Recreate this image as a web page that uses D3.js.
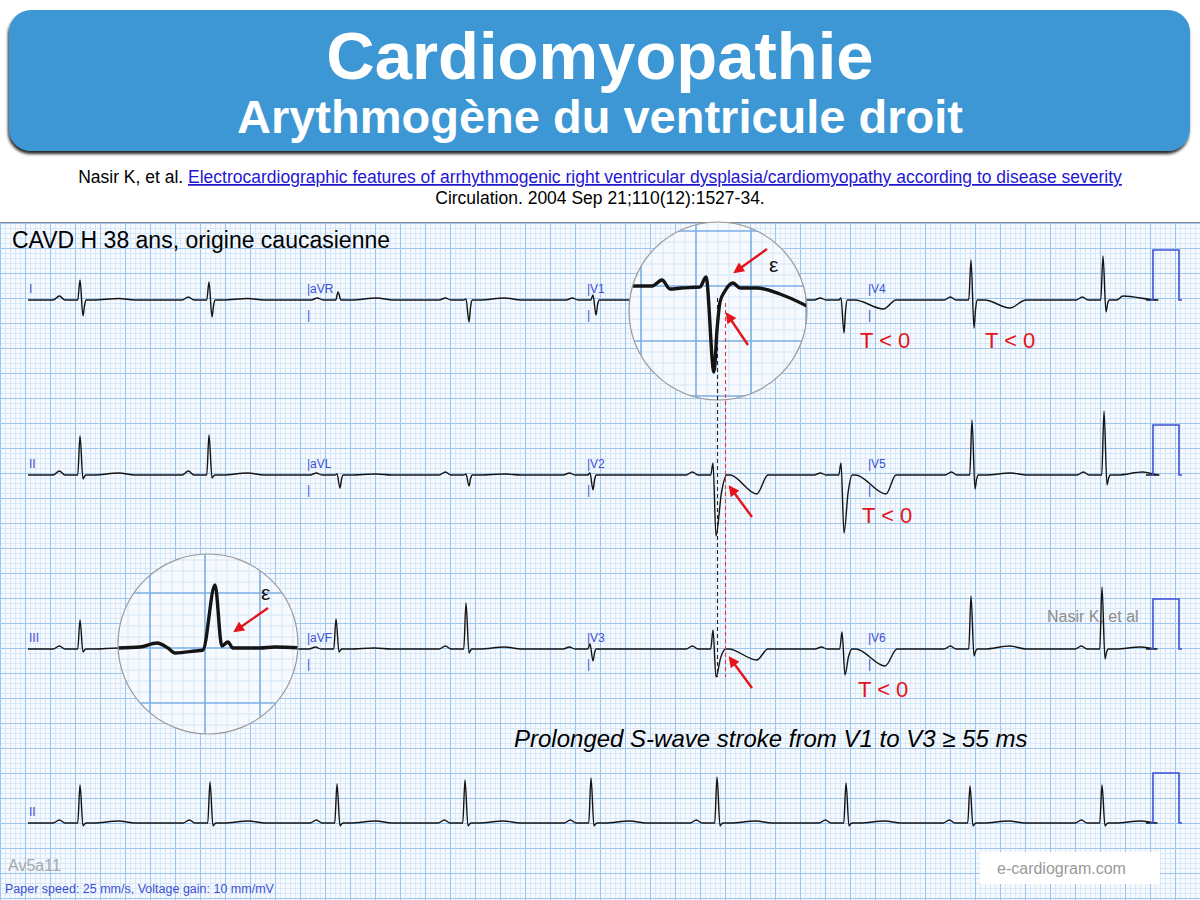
<!DOCTYPE html>
<html>
<head>
<meta charset="utf-8">
<script src="https://cdn.jsdelivr.net/npm/d3@7"></script>
<style>
  html, body { margin: 0; padding: 0; background: #fff; }
  svg { display: block; font-family: "Liberation Sans", Arial, Helvetica, sans-serif; }
</style>
</head>
<body>
<div id="chart"></div>
<script>
// ---- values ----
// paper: 25 mm/s, 10 mm/mV  ->  time in s, amplitude in mV
const rowBaselines = [300, 475, 649, 823];            // px, isoelectric line of each strip
const leadNames = [['I', 'aVR', 'V1', 'V4'], ['II', 'aVL', 'V2', 'V5'], ['III', 'aVF', 'V3', 'V6'], ['II']];
const columnStarts = [0.232, 2.456, 4.696, 6.944];  // s, where each lead label sits
const traceSpan = [0.224, 9.168];                    // s, first and last sample of every strip

// one entry per beat: R time (s), P, Q, R, S, T amplitudes (mV), J point / T peak (ms after R)
const row1Beats = [
  { t: 0.640, p: 0.08, r: 0.40, s: 0.32, tw: 0.03 },
  { t: 1.672, p: 0.06, r: 0.36, s: 0.34, tw: 0.03 },
  { t: 2.704, p: 0.04, r: 0.16, s: 0.00, tw: 0.04 },
  { t: 3.728, p: 0.04, r: 0.02, s: 0.44, tw: 0.04 },
  { t: 4.744, p: 0.04, r: 0.10, s: 0.30, tw: 0.00 },
  { t: 5.704, p: 0.06, r: 0.20, s: 1.20, j: 110, tw: -0.10 },
  { t: 6.728, p: 0.04, r: 0.04, s: 0.66, tw: -0.18, tp: 340 },
  { t: 7.768, p: 0.06, r: 0.80, s: 0.56, tw: -0.16, tp: 310 },
  { t: 8.824, p: 0.06, r: 0.88, s: 0.24, tw: 0.08, tp: 160 },
];
const row2Beats = [
  { t: 0.640, p: 0.08, r: 0.78, s: 0.08, tw: 0.04 },
  { t: 1.672, p: 0.08, r: 0.80, s: 0.06, tw: 0.04 },
  { t: 2.696, p: 0.04, r: 0.02, s: 0.26, tw: 0.02 },
  { t: 3.728, p: 0.06, r: 0.02, s: 0.22, tw: 0.02 },
  { t: 4.720, p: 0.04, r: 0.04, s: 0.30, tw: 0.00 },
  { t: 5.704, p: 0.06, r: 0.24, s: 1.22, j: 110, tw: -0.38, tp: 350 },
  { t: 6.728, p: 0.04, r: 0.24, s: 1.16, j: 90, tw: -0.38, tp: 360 },
  { t: 7.776, p: 0.06, r: 1.10, s: 0.28, tw: 0.04 },
  { t: 8.832, p: 0.06, r: 1.28, s: 0.20, tw: 0.06 },
];
const row3Beats = [
  { t: 0.640, p: 0.06, r: 0.58, s: 0.06, tw: 0.02 },
  { t: 1.672, p: 0.06, r: 0.62, s: 0.06, tw: 0.02 },
  { t: 2.688, p: 0.04, r: 0.60, s: 0.06, tw: 0.02 },
  { t: 3.728, p: 0.06, r: 0.92, s: 0.08, tw: 0.04 },
  { t: 4.720, p: 0.04, r: 0.10, s: 0.24, tw: 0.00 },
  { t: 5.704, p: 0.06, r: 0.38, s: 0.56, j: 100, tw: -0.22, tp: 350 },
  { t: 6.736, p: 0.04, r: 0.34, s: 0.52, j: 80, tw: -0.34, tp: 345 },
  { t: 7.768, p: 0.06, r: 1.06, s: 0.14, tw: 0.06 },
  { t: 8.816, p: 0.06, r: 1.24, s: 0.20, tw: 0.04 },
];
const row4Beats = [
  { t: 0.640, p: 0.06, r: 0.76, s: 0.06, tw: 0.04 },
  { t: 1.680, p: 0.06, r: 0.82, s: 0.06, tw: 0.04 },
  { t: 2.696, p: 0.06, r: 0.78, s: 0.06, tw: 0.04 },
  { t: 3.720, p: 0.06, r: 0.86, s: 0.06, tw: 0.04 },
  { t: 4.728, p: 0.06, r: 0.90, s: 0.06, tw: 0.04 },
  { t: 5.736, p: 0.06, r: 0.92, s: 0.06, tw: 0.04 },
  { t: 6.768, p: 0.06, r: 0.80, s: 0.06, tw: 0.04 },
  { t: 7.760, p: 0.06, r: 0.74, s: 0.06, tw: 0.04 },
  { t: 8.816, p: 0.06, r: 0.76, s: 0.06, tw: 0.04 },
];
const rowBeats = [row1Beats, row2Beats, row3Beats, row4Beats];

// 1 mV calibration pulse at the end of each strip: [s, mV]
const calibration = [[9.200, 0], [9.224, 0], [9.224, 1], [9.432, 1], [9.432, 0], [9.456, 0]];

// magnified beats inside the two lenses: [ms from R, mV]
const v1Lens = [[-280, 0], [-196, 0], [-160, 0.06], [-131, -0.03], [-90, -0.02], [-22, -0.01], [0, 0.09],
  [29, -0.86], [40, -0.44], [51, -0.16], [69, -0.05], [98, 0.03], [124, -0.02], [185, -0.02], [269, -0.08], [367, -0.20]];
const iiiLens = [[-353, 0], [-273, 0.01], [-211, 0.05], [-171, 0], [-145, -0.05], [-73, -0.03], [-44, -0.02],
  [0, 0.63], [25, 0.02], [47, 0.06], [65, 0], [164, 0], [218, 0.01], [325, 0]];

// wave timing shared by all beats (ms relative to R)
const TIMING = { pOn: -215, pPk: -165, pOff: -120, qOn: -40, q: -18, s: 24, j: 50, tOn: 110, tPk: 310, tOff: 440 };

const COLORS = {
  paper: '#f6fafe', minor: '#d2e4f6', major: '#9fc6ee', ink: '#141414',
  lead: '#3d50d6', red: '#e5141b', banner: '#3e97d4', link: '#1f16d4', grey: '#8c8c8c',
};

// ---- drawing ----
const W = 1200, H = 900, gridTop = 222;
const svg = d3.select('#chart').append('svg').attr('width', W).attr('height', H);
const defs = svg.append('defs');

const x = d3.scaleLinear().domain([0, 9.6]).range([0, W]);        // 125 px per second
const mmX = d3.scaleLinear().domain([0, 240]).range([0, W]);       // 5 px per mm
const mmY = d3.scaleLinear().domain([0, 136]).range([223, 903]);
const yRow = (base) => d3.scaleLinear().domain([-1, 1]).range([base + 50, base - 50]);

// banner
defs.append('filter').attr('id', 'shadow').attr('x', '-5%').attr('y', '-10%').attr('width', '110%').attr('height', '130%')
  .append('feDropShadow').attr('dx', -1).attr('dy', 3).attr('stdDeviation', 1.6)
  .attr('flood-color', '#000').attr('flood-opacity', 0.85);
svg.append('rect').attr('x', 9).attr('y', 10).attr('width', 1181).attr('height', 141).attr('rx', 22)
  .attr('fill', COLORS.banner).attr('filter', 'url(#shadow)');
svg.append('text').attr('x', 600).attr('y', 79).attr('text-anchor', 'middle')
  .attr('fill', '#fff').style('font-weight', 700).style('font-size', '67px').text('Cardiomyopathie');
svg.append('text').attr('x', 600).attr('y', 133).attr('text-anchor', 'middle')
  .attr('fill', '#fff').style('font-weight', 700).style('font-size', '47px').text('Arythmogène du ventricule droit');

const cite = svg.append('text').attr('x', 600).attr('y', 183).attr('text-anchor', 'middle').style('font-size', '17.5px');
cite.append('tspan').attr('fill', '#000').text('Nasir K, et al. ');
cite.append('tspan').attr('fill', COLORS.link).style('text-decoration', 'underline')
  .text('Electrocardiographic features of arrhythmogenic right ventricular dysplasia/cardiomyopathy according to disease severity');
svg.append('text').attr('x', 600).attr('y', 204).attr('text-anchor', 'middle').style('font-size', '17.5px')
  .attr('fill', '#000').text('Circulation. 2004 Sep 21;110(12):1527-34.');

// ECG paper
const paper = svg.append('g');
paper.append('rect').attr('x', 0).attr('y', gridTop).attr('width', W).attr('height', H - gridTop).attr('fill', COLORS.paper);
const mmCols = d3.range(0, 241), mmRows = d3.range(0, 136);
[false, true].forEach((major) => {
  paper.append('g').selectAll('line').data(mmCols.filter((i) => (i % 5 === 0) === major)).join('line')
    .attr('x1', (i) => mmX(i) + 0.5).attr('x2', (i) => mmX(i) + 0.5).attr('y1', gridTop).attr('y2', H)
    .attr('stroke', major ? COLORS.major : COLORS.minor).attr('stroke-width', major ? 1.1 : 0.8);
  paper.append('g').selectAll('line').data(mmRows.filter((i) => (i % 5 === 0) === major)).join('line')
    .attr('y1', (i) => mmY(i) + 0.5).attr('y2', (i) => mmY(i) + 0.5).attr('x1', 0).attr('x2', W)
    .attr('stroke', major ? COLORS.major : COLORS.minor).attr('stroke-width', major ? 1.1 : 0.8);
});
paper.append('line').attr('x1', 0).attr('x2', W).attr('y1', gridTop + 0.5).attr('y2', gridTop + 0.5)
  .attr('stroke', '#8a8a8a').attr('stroke-width', 1);

// watermark sits under the trace
svg.append('text').attr('x', 1047).attr('y', 622).style('font-size', '16px').attr('fill', COLORS.grey).text('Nasir K, et al');

// traces
function beatPoints(b) {
  const at = (ms) => b.t + ms / 1000;
  const j = b.j ?? TIMING.j;
  const tp = b.tp ?? TIMING.tPk;
  const tOn = Math.max(TIMING.tOn, j + 25);
  return [
    [at(TIMING.pOn), 0], [at(TIMING.pPk), b.p], [at(TIMING.pOff), 0],
    [at(TIMING.qOn), 0], [at(TIMING.q), -(b.q || 0)], [b.t, b.r], [at(TIMING.s), -b.s],
    [at((TIMING.s + j) / 2), -b.s * 0.3], [at(j), 0],
    [at(tOn), 0], [at(tp), b.tw], [at(TIMING.tOff), 0],
  ];
}
const traces = svg.append('g');
rowBeats.forEach((beats, i) => {
  const y = yRow(rowBaselines[i]);
  const pts = [[traceSpan[0], 0], ...beats.flatMap(beatPoints), [traceSpan[1], 0]];
  const line = d3.line().x((d) => x(d[0])).y((d) => y(d[1])).curve(d3.curveMonotoneX);
  traces.append('path').attr('d', line(pts)).attr('fill', 'none').attr('stroke', COLORS.ink)
    .attr('stroke-width', 1.4).attr('stroke-linejoin', 'round');
  const cal = d3.line().x((d) => x(d[0])).y((d) => y(d[1]));
  traces.append('path').attr('d', cal(calibration)).attr('fill', 'none').attr('stroke', COLORS.lead).attr('stroke-width', 1.6);
});

// lead labels
const labels = svg.append('g').attr('fill', COLORS.lead).style('font-size', '12px');
leadNames.forEach((names, i) => {
  const base = rowBaselines[i];
  names.forEach((name, c) => {
    const lx = x(columnStarts[c]);
    labels.append('text').attr('x', lx).attr('y', base - 7).text(c === 0 ? name : '|' + name);
    if (c > 0) labels.append('text').attr('x', lx).attr('y', base + 19).text('|');
  });
});

// lenses
const lenses = [
  { cx: 718, cy: 311, r: 89, rx: 706, base: 286, data: v1Lens, id: 'lensV1' },
  { cx: 208, cy: 644, r: 90, rx: 215, base: 648, data: iiiLens, id: 'lensIII' },
];
lenses.forEach((L) => {
  defs.append('clipPath').attr('id', L.id).append('circle').attr('cx', L.cx).attr('cy', L.cy).attr('r', L.r);
  const g = svg.append('g').attr('clip-path', `url(#${L.id})`);
  g.append('rect').attr('x', L.cx - L.r).attr('y', L.cy - L.r).attr('width', 2 * L.r).attr('height', 2 * L.r).attr('fill', COLORS.paper);
  const lx = d3.scaleLinear().domain([0, 1000]).range([L.rx, L.rx + 275]);
  const ly = d3.scaleLinear().domain([0, 1]).range([L.base, L.base - 100]);
  const steps = d3.range(-10, 11);
  [false, true].forEach((major) => {
    const sel = steps.filter((k) => (Math.abs(k) % 5 === 0) === major);
    g.append('g').selectAll('line').data(sel).join('line')
      .attr('x1', (k) => L.rx - 10 + k * 11).attr('x2', (k) => L.rx - 10 + k * 11)
      .attr('y1', L.cy - L.r).attr('y2', L.cy + L.r)
      .attr('stroke', major ? '#7aaee6' : COLORS.minor).attr('stroke-width', major ? 1.6 : 0.9);
    g.append('g').selectAll('line').data(sel).join('line')
      .attr('y1', (k) => L.base + k * 11).attr('y2', (k) => L.base + k * 11)
      .attr('x1', L.cx - L.r).attr('x2', L.cx + L.r)
      .attr('stroke', major ? '#7aaee6' : COLORS.minor).attr('stroke-width', major ? 1.6 : 0.9);
  });
  const line = d3.line().x((d) => lx(d[0])).y((d) => ly(d[1])).curve(d3.curveMonotoneX);
  g.append('path').attr('d', line(L.data)).attr('fill', 'none').attr('stroke', COLORS.ink)
    .attr('stroke-width', 3.4).attr('stroke-linejoin', 'round').attr('stroke-linecap', 'round');
  svg.append('circle').attr('cx', L.cx).attr('cy', L.cy).attr('r', L.r)
    .attr('fill', 'none').attr('stroke', '#999').attr('stroke-width', 1.2);
});

// S-wave duration markers
svg.append('line').attr('x1', 717.5).attr('x2', 717.5).attr('y1', 298).attr('y2', 677)
  .attr('stroke', '#222').attr('stroke-width', 1.1).attr('stroke-dasharray', '4,3');
svg.append('line').attr('x1', 725.5).attr('x2', 725.5).attr('y1', 303).attr('y2', 677)
  .attr('stroke', '#e03a3a').attr('stroke-width', 1.1).attr('stroke-dasharray', '4,3');

// arrows
defs.append('marker').attr('id', 'head').attr('viewBox', '0 0 10 10').attr('refX', 8).attr('refY', 5)
  .attr('markerWidth', 5).attr('markerHeight', 4.5).attr('orient', 'auto')
  .append('path').attr('d', 'M0,0 L10,5 L0,10 z').attr('fill', COLORS.red);
const arrows = [
  [767, 249, 735, 272], [748, 345, 727, 314], [752, 517, 730, 487], [752, 688, 730, 658], [268, 608, 235, 631],
];
svg.append('g').selectAll('line').data(arrows).join('line')
  .attr('x1', (d) => d[0]).attr('y1', (d) => d[1]).attr('x2', (d) => d[2]).attr('y2', (d) => d[3])
  .attr('stroke', COLORS.red).attr('stroke-width', 2.4).attr('marker-end', 'url(#head)');

svg.append('text').attr('x', 769).attr('y', 272).style('font-size', '21px').attr('fill', '#111').text('ε');
svg.append('text').attr('x', 261).attr('y', 600).style('font-size', '21px').attr('fill', '#111').text('ε');

// annotations
svg.append('text').attr('x', 12).attr('y', 248).style('font-size', '23px').attr('fill', '#000')
  .text('CAVD H 38 ans, origine caucasienne');
const tNeg = [[860, 348], [985, 348], [862, 523], [858, 697]];
svg.append('g').selectAll('text').data(tNeg).join('text')
  .attr('x', (d) => d[0]).attr('y', (d) => d[1]).style('font-size', '22px').attr('fill', COLORS.red).text('T < 0');
svg.append('text').attr('x', 514).attr('y', 747).style('font-size', '24px').style('font-style', 'italic')
  .attr('fill', '#000').text('Prolonged S-wave stroke from V1 to V3 ≥ 55 ms');

svg.append('text').attr('x', 8).attr('y', 871).style('font-size', '16px').attr('fill', '#a8a8a8').text('Av5a11');
svg.append('text').attr('x', 5).attr('y', 893).style('font-size', '12.5px').attr('fill', COLORS.lead)
  .text('Paper speed: 25 mm/s, Voltage gain: 10 mm/mV');
svg.append('rect').attr('x', 980).attr('y', 852).attr('width', 180).attr('height', 32).attr('fill', '#fff');
svg.append('text').attr('x', 997).attr('y', 874).style('font-size', '16px').attr('fill', '#999').text('e-cardiogram.com');
</script>
</body>
</html>
